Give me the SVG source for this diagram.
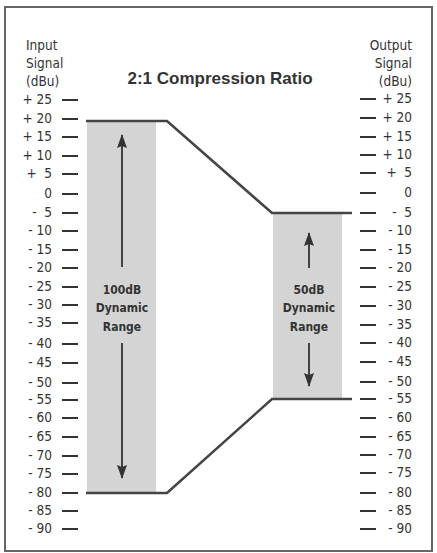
<svg xmlns="http://www.w3.org/2000/svg" width="437" height="553" viewBox="0 0 437 553">
<style>
.lab{font-family:"DejaVu Sans Condensed","DejaVu Sans","Liberation Sans",sans-serif;font-size:13.5px;fill:#333}
.tk{stroke:#333;stroke-width:2}
.ln{stroke:#444;stroke-width:2.5;fill:none}
.ar{stroke:#333;stroke-width:1.8;fill:none}
.dr{font-family:"DejaVu Sans Condensed","DejaVu Sans",sans-serif;font-size:12px;font-weight:bold;fill:#333;text-anchor:middle}
</style>
<defs>
<marker id="ah" viewBox="0 0 14 10" refX="13" refY="5" markerWidth="14" markerHeight="10" orient="auto" markerUnits="userSpaceOnUse">
<path d="M0,0 L14,5 L0,10 L2,5 z" fill="#333"/>
</marker>
</defs>
<rect x="5" y="7" width="427" height="544" fill="#fff" stroke="#666" stroke-width="2"/>
<g id="title"><text x="220" y="84" font-family="Liberation Sans,Arial,sans-serif" font-size="17" font-weight="bold" fill="#333" text-anchor="middle">2:1 Compression Ratio</text></g>
<g id="input-axis">
<text class="lab" x="26" y="50">Input</text>
<text class="lab" x="26" y="68">Signal</text>
<text class="lab" x="26" y="86">(dBu)</text>
<g text-anchor="end">
<text class="lab" x="52" y="104">+ 25</text>
<text class="lab" x="52" y="123">+ 20</text>
<text class="lab" x="52" y="141">+ 15</text>
<text class="lab" x="52" y="160">+ 10</text>
<text class="lab" x="52" y="178" xml:space="preserve">+  5</text>
<text class="lab" x="52" y="198">0</text>
<text class="lab" x="52" y="217" xml:space="preserve">-  5</text>
<text class="lab" x="52" y="235">- 10</text>
<text class="lab" x="52" y="254">- 15</text>
<text class="lab" x="52" y="272">- 20</text>
<text class="lab" x="52" y="291">- 25</text>
<text class="lab" x="52" y="309">- 30</text>
<text class="lab" x="52" y="327">- 35</text>
<text class="lab" x="52" y="348">- 40</text>
<text class="lab" x="52" y="367">- 45</text>
<text class="lab" x="52" y="387">- 50</text>
<text class="lab" x="52" y="404">- 55</text>
<text class="lab" x="52" y="422">- 60</text>
<text class="lab" x="52" y="441">- 65</text>
<text class="lab" x="52" y="460">- 70</text>
<text class="lab" x="52" y="478">- 75</text>
<text class="lab" x="52" y="497">- 80</text>
<text class="lab" x="52" y="515">- 85</text>
<text class="lab" x="52" y="533">- 90</text>
</g>
<g class="tk">
<line x1="62" y1="100" x2="78" y2="100"/><line x1="62" y1="119" x2="78" y2="119"/><line x1="62" y1="137" x2="78" y2="137"/><line x1="62" y1="156" x2="78" y2="156"/><line x1="62" y1="174" x2="78" y2="174"/><line x1="62" y1="194" x2="78" y2="194"/><line x1="62" y1="213" x2="78" y2="213"/><line x1="62" y1="231" x2="78" y2="231"/><line x1="62" y1="250" x2="78" y2="250"/><line x1="62" y1="268" x2="78" y2="268"/><line x1="62" y1="287" x2="78" y2="287"/><line x1="62" y1="305" x2="78" y2="305"/><line x1="62" y1="323" x2="78" y2="323"/><line x1="62" y1="344" x2="78" y2="344"/><line x1="62" y1="363" x2="78" y2="363"/><line x1="62" y1="383" x2="78" y2="383"/><line x1="62" y1="400" x2="78" y2="400"/><line x1="62" y1="418" x2="78" y2="418"/><line x1="62" y1="437" x2="78" y2="437"/><line x1="62" y1="456" x2="78" y2="456"/><line x1="62" y1="474" x2="78" y2="474"/><line x1="62" y1="493" x2="78" y2="493"/><line x1="62" y1="511" x2="78" y2="511"/><line x1="62" y1="529" x2="78" y2="529"/>
</g>
</g>
<g id="output-axis">
<g text-anchor="end">
<text class="lab" x="412" y="50">Output</text>
<text class="lab" x="412" y="68">Signal</text>
<text class="lab" x="412" y="86">(dBu)</text>
<text class="lab" x="412" y="103">+ 25</text>
<text class="lab" x="412" y="122">+ 20</text>
<text class="lab" x="412" y="141">+ 15</text>
<text class="lab" x="412" y="159">+ 10</text>
<text class="lab" x="412" y="177" xml:space="preserve">+  5</text>
<text class="lab" x="412" y="197">0</text>
<text class="lab" x="412" y="217" xml:space="preserve">-  5</text>
<text class="lab" x="412" y="235">- 10</text>
<text class="lab" x="412" y="254">- 15</text>
<text class="lab" x="412" y="272">- 20</text>
<text class="lab" x="412" y="291">- 25</text>
<text class="lab" x="412" y="310">- 30</text>
<text class="lab" x="412" y="329">- 35</text>
<text class="lab" x="412" y="347">- 40</text>
<text class="lab" x="412" y="366">- 45</text>
<text class="lab" x="412" y="386">- 50</text>
<text class="lab" x="412" y="403">- 55</text>
<text class="lab" x="412" y="422">- 60</text>
<text class="lab" x="412" y="441">- 65</text>
<text class="lab" x="412" y="459">- 70</text>
<text class="lab" x="412" y="477">- 75</text>
<text class="lab" x="412" y="497">- 80</text>
<text class="lab" x="412" y="515">- 85</text>
<text class="lab" x="412" y="533">- 90</text>
</g>
<g class="tk">
<line x1="360" y1="99" x2="376" y2="99"/><line x1="360" y1="118" x2="376" y2="118"/><line x1="360" y1="137" x2="376" y2="137"/><line x1="360" y1="155" x2="376" y2="155"/><line x1="360" y1="173" x2="376" y2="173"/><line x1="360" y1="193" x2="376" y2="193"/><line x1="360" y1="213" x2="376" y2="213"/><line x1="360" y1="231" x2="376" y2="231"/><line x1="360" y1="250" x2="376" y2="250"/><line x1="360" y1="268" x2="376" y2="268"/><line x1="360" y1="287" x2="376" y2="287"/><line x1="360" y1="306" x2="376" y2="306"/><line x1="360" y1="325" x2="376" y2="325"/><line x1="360" y1="343" x2="376" y2="343"/><line x1="360" y1="362" x2="376" y2="362"/><line x1="360" y1="382" x2="376" y2="382"/><line x1="360" y1="399" x2="376" y2="399"/><line x1="360" y1="418" x2="376" y2="418"/><line x1="360" y1="437" x2="376" y2="437"/><line x1="360" y1="455" x2="376" y2="455"/><line x1="360" y1="473" x2="376" y2="473"/><line x1="360" y1="493" x2="376" y2="493"/><line x1="360" y1="511" x2="376" y2="511"/><line x1="360" y1="529" x2="376" y2="529"/>
</g>
</g>
<g id="input-range">
<rect x="87" y="121" width="69" height="372" fill="#d4d4d4"/>
<text class="dr" x="122" y="294">100dB</text>
<text class="dr" x="122" y="312">Dynamic</text>
<text class="dr" x="122" y="331">Range</text>
</g>
<g id="output-range">
<rect x="273" y="214" width="69" height="185" fill="#d4d4d4"/>
<text class="dr" x="309" y="294">50dB</text>
<text class="dr" x="309" y="312">Dynamic</text>
<text class="dr" x="309" y="331">Range</text>
</g>
<g id="connectors">
<path class="ln" d="M86,121 H167 L272,213 H352"/>
<path class="ln" d="M86,493 H167 L272,399 H352"/>
<line class="ar" x1="122" y1="267" x2="122" y2="135" marker-end="url(#ah)"/>
<line class="ar" x1="122" y1="343" x2="122" y2="478" marker-end="url(#ah)"/>
<line class="ar" x1="309" y1="268" x2="309" y2="233" marker-end="url(#ah)"/>
<line class="ar" x1="309" y1="343" x2="309" y2="386" marker-end="url(#ah)"/>
</g>
</svg>
